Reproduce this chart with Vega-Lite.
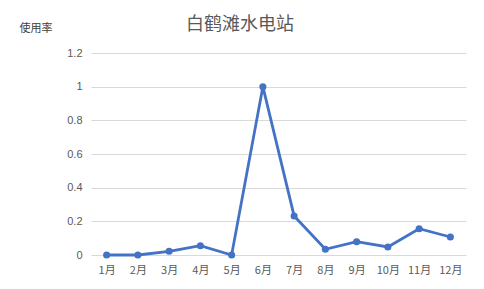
{
  "$schema": "https://vega.github.io/schema/vega-lite/v6.json",
  "width": 375,
  "height": 202,
  "autosize": {"type": "none"},
  "padding": {"left": 91, "top": 53, "right": 18, "bottom": 34},
  "background": "white",
  "title": {
    "text": "白鹤滩水电站",
    "font": "Noto Sans CJK SC",
    "fontSize": 18,
    "fontWeight": "normal",
    "color": "#595959",
    "anchor": "start",
    "dx": 167,
    "offset": -12
  },
  "data": {
    "values": [
      {"month": "1月", "rate": 0.0},
      {"month": "2月", "rate": 0.0},
      {"month": "3月", "rate": 0.022},
      {"month": "4月", "rate": 0.055},
      {"month": "5月", "rate": 0.0},
      {"month": "6月", "rate": 1.0},
      {"month": "7月", "rate": 0.232},
      {"month": "8月", "rate": 0.034},
      {"month": "9月", "rate": 0.079},
      {"month": "10月", "rate": 0.048},
      {"month": "11月", "rate": 0.156},
      {"month": "12月", "rate": 0.107}
    ]
  },
  "mark": {"type": "line", "color": "#4472C4", "strokeWidth": 2.8, "point": {"filled": true, "size": 50, "color": "#4472C4"}},
  "encoding": {
    "x": {
      "field": "month",
      "type": "ordinal",
      "sort": null,
      "scale": {"type": "point", "padding": 0.5},
      "axis": {
        "title": null,
        "labelAngle": 0,
        "domain": false,
        "ticks": false,
        "labelPadding": 9,
        "labelFont": "Noto Sans CJK SC",
        "labelFontSize": 11,
        "labelColor": "#595959"
      }
    },
    "y": {
      "field": "rate",
      "type": "quantitative",
      "scale": {"domain": [0, 1.2]},
      "axis": {
        "values": [0, 0.2, 0.4, 0.6, 0.8, 1, 1.2],
        "format": "~g",
        "title": "使用率",
        "titleAngle": 0,
        "titleAlign": "left",
        "titleBaseline": "middle",
        "titleX": -72,
        "titleY": -25,
        "titleFont": "Noto Sans CJK SC",
        "titleFontSize": 11,
        "titleFontWeight": "normal",
        "titleColor": "#404040",
        "domain": false,
        "ticks": false,
        "labelPadding": 9,
        "labelFont": "Liberation Sans",
        "labelFontSize": 11,
        "labelColor": "#595959",
        "gridColor": "#d9d9d9"
      }
    }
  },
  "config": {"view": {"stroke": null}}
}
